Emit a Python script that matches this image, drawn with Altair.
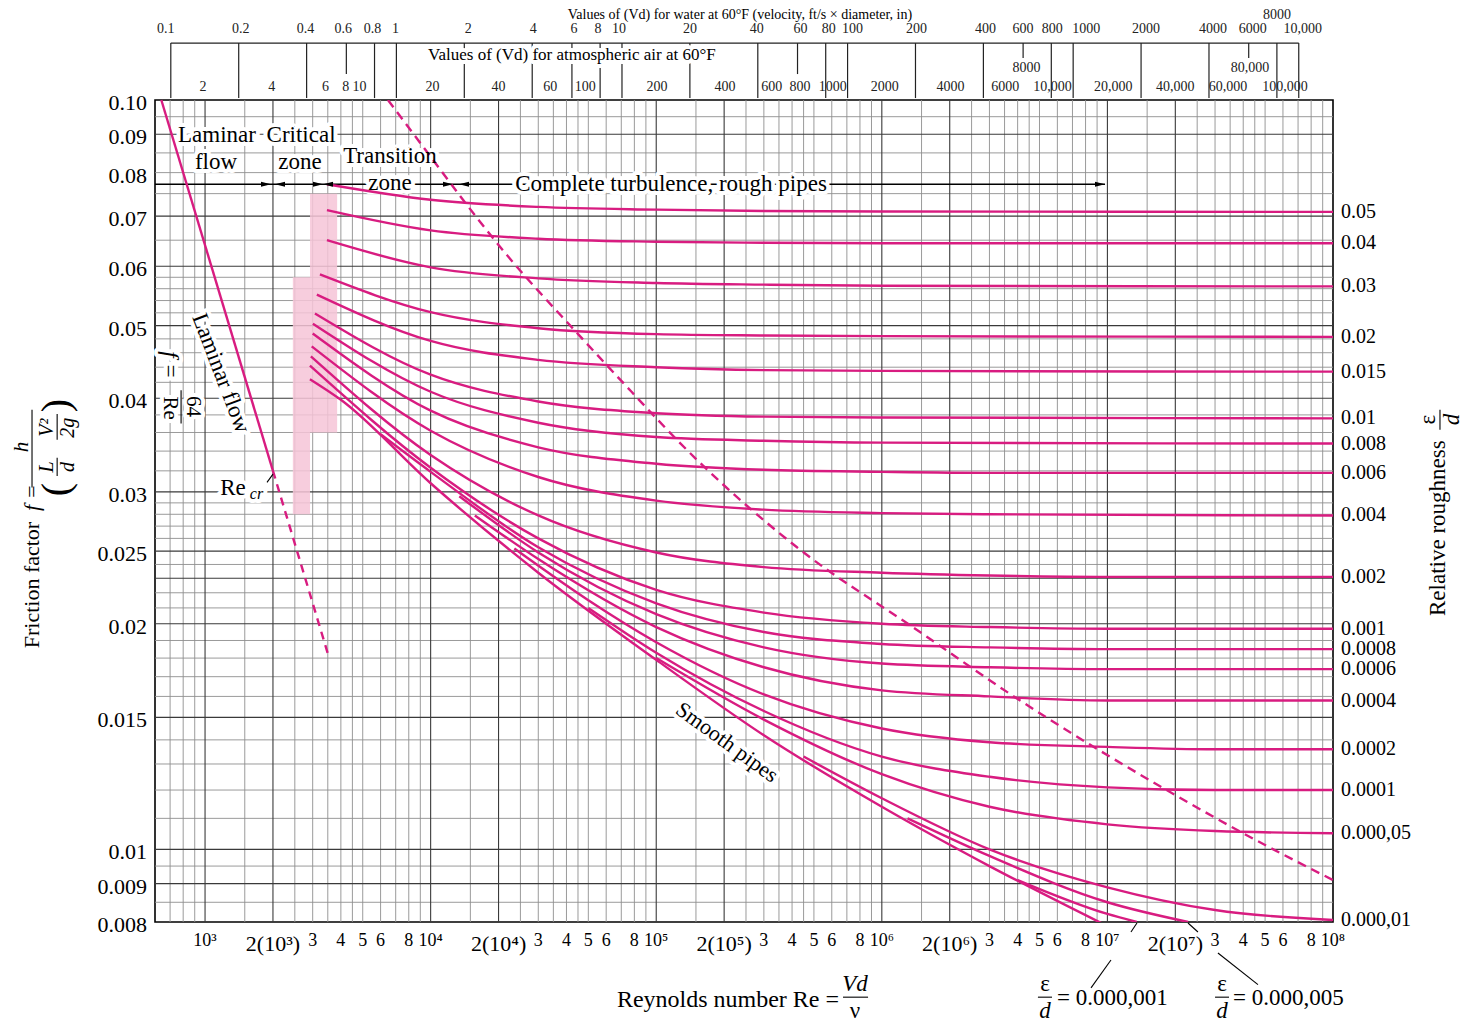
import altair as alt
import pandas as pd

FONT = "Liberation Serif"
MAGENTA = "#d81c80"
PINK = "#f6c4d7"
GRID_MINOR = "#8e8e8e"
GRID_MAJOR = "#3a3a3a"

# ---------------- scales / grid ----------------
X_DOMAIN = [600, 100_000_000]
Y_DOMAIN = [0.008, 0.10]

X_GRID_MULT = [1, 1.5, 2, 2.5, 3, 3.5, 4, 4.5, 5, 6, 7, 8, 9]
X_GRID_DECADES = [100, 1_000, 10_000, 100_000, 1_000_000, 10_000_000]
X_GRID_MAJOR = [1_000, 2_000, 10_000, 20_000, 100_000, 200_000,
                1_000_000, 2_000_000, 10_000_000, 20_000_000]
Y_GRID = [0.0085, 0.009, 0.0095, 0.010, 0.011, 0.012, 0.013, 0.014, 0.015,
          0.016, 0.017, 0.018, 0.019, 0.020, 0.021, 0.022, 0.023, 0.024,
          0.025, 0.026, 0.027, 0.028, 0.029, 0.030, 0.032, 0.034, 0.036,
          0.038, 0.040, 0.042, 0.044, 0.046, 0.048, 0.050, 0.052, 0.054,
          0.056, 0.058, 0.060, 0.065, 0.070, 0.075, 0.080, 0.085, 0.090, 0.095]
Y_GRID_MAJOR = [0.009, 0.010, 0.015, 0.020, 0.023, 0.025, 0.030, 0.040,
                0.050, 0.060, 0.070, 0.090]

X_TICKS = [1_000, 2_000, 3_000, 4_000, 5_000, 6_000, 8_000,
           10_000, 20_000, 30_000, 40_000, 50_000, 60_000, 80_000,
           100_000, 200_000, 300_000, 400_000, 500_000, 600_000, 800_000,
           1_000_000, 2_000_000, 3_000_000, 4_000_000, 5_000_000, 6_000_000, 8_000_000,
           10_000_000, 20_000_000, 30_000_000, 40_000_000, 50_000_000, 60_000_000, 80_000_000,
           100_000_000]
X_TICK_LABELS = ["10³", "2(10³)", "3", "4", "5", "6", "8",
                 "10⁴", "2(10⁴)", "3", "4", "5", "6", "8",
                 "10⁵", "2(10⁵)", "3", "4", "5", "6", "8",
                 "10⁶", "2(10⁶)", "3", "4", "5", "6", "8",
                 "10⁷", "2(10⁷)", "3", "4", "5", "6", "8",
                 "10⁸"]
Y_TICKS = [0.008, 0.009, 0.01, 0.015, 0.02, 0.025, 0.03, 0.04, 0.05,
           0.06, 0.07, 0.08, 0.09, 0.10]
Y_TICK_LABELS = ["0.008", "0.009", "0.01", "0.015", "0.02", "0.025", "0.03",
                 "0.04", "0.05", "0.06", "0.07", "0.08", "0.09", "0.10"]

# ---------------- curves: (Reynolds numbers, friction factors) ----------------
CURVES = {
    "0.05": ([3470, 1e4, 3e4, 1e5, 3e5, 1e6, 1e8],
             [0.0772, 0.0736, 0.0720, 0.0714, 0.0711, 0.0710, 0.0709]),
    "0.04": ([3470, 1e4, 3e4, 1e5, 3e5, 1e6, 1e8],
             [0.0713, 0.0670, 0.0653, 0.0647, 0.0645, 0.0644, 0.0644]),
    "0.03": ([3470, 1e4, 3e4, 1e5, 3e5, 1e6, 1e8],
             [0.0650, 0.0598, 0.0578, 0.0570, 0.0567, 0.0565, 0.0564]),
    "0.02": ([3230, 1e4, 3e4, 1e5, 3e5, 1e6, 1e8],
             [0.0585, 0.0521, 0.0496, 0.0487, 0.0485, 0.0484, 0.0483]),
    "0.015": ([3130, 1e4, 3e4, 1e5, 3e5, 1e6, 1e8],
              [0.0550, 0.0477, 0.0450, 0.0440, 0.0436, 0.0435, 0.0434]),
    "0.01": ([3070, 1e4, 3e4, 1e5, 3e5, 1e6, 1e8],
             [0.0519, 0.0430, 0.0396, 0.0382, 0.0378, 0.0377, 0.0376]),
    "0.008": ([3006, 1e4, 3e4, 1e5, 3e5, 1e6, 1e8],
              [0.0503, 0.0408, 0.0371, 0.0355, 0.0351, 0.0349, 0.0348]),
    "0.006": ([3000, 1e4, 3e4, 1e5, 3e5, 1e6, 3e6, 1e8],
              [0.0488, 0.0385, 0.0344, 0.0327, 0.0321, 0.0319, 0.0318, 0.0318]),
    "0.004": ([2970, 1e4, 3e4, 1e5, 3e5, 1e6, 3e6, 1e8],
              [0.0469, 0.0362, 0.0314, 0.0292, 0.0284, 0.0281, 0.0280, 0.0279]),
    "0.002": ([2945, 1e4, 3e4, 1e5, 3e5, 1e6, 3e6, 1e7, 1e8],
              [0.0455, 0.0336, 0.0279, 0.0249, 0.0238, 0.0234, 0.0232, 0.0231, 0.0231]),
    "0.001": ([2917, 1e4, 3e4, 1e5, 3e5, 1e6, 3e6, 1e7, 1e8],
              [0.0442, 0.0323, 0.0260, 0.0222, 0.0207, 0.0200, 0.0198, 0.0197, 0.0197]),
    "0.0008": ([6000, 1e4, 3e4, 1e5, 3e5, 1e6, 3e6, 1e7, 1e8],
               [0.0358, 0.0319, 0.0253, 0.0213, 0.0195, 0.0188, 0.0186, 0.0185, 0.0185]),
    "0.0006": ([13400, 3e4, 1e5, 3e5, 1e6, 3e6, 1e7, 1e8],
               [0.0296, 0.0249, 0.0206, 0.0186, 0.0177, 0.0175, 0.0174, 0.0174]),
    "0.0004": ([15700, 3e4, 1e5, 3e5, 1e6, 3e6, 1e7, 1e8],
               [0.0279, 0.0244, 0.0198, 0.0175, 0.0163, 0.0160, 0.0158, 0.0158]),
    "0.0002": ([23500, 5e4, 1e5, 3e5, 1e6, 3e6, 1e7, 3e7, 1e8],
               [0.0252, 0.0215, 0.0189, 0.0161, 0.0145, 0.0139, 0.0137, 0.0136, 0.0136]),
    "0.0001": ([5e4, 1e5, 3e5, 1e6, 3e6, 1e7, 3e7, 1e8],
               [0.0210, 0.0183, 0.0153, 0.0133, 0.0125, 0.0121, 0.0120, 0.0120]),
    "0.000,05": ([1e5, 3e5, 1e6, 3e6, 1e7, 3e7, 1e8],
                 [0.0180, 0.0149, 0.0126, 0.0114, 0.0108, 0.01058, 0.01051]),
    "0.000,01": ([4.5e5, 1e6, 3e6, 1e7, 3e7, 1e8],
                 [0.0133, 0.0117, 0.0100, 0.0089, 0.0083, 0.00805]),
    "0.000,005": ([1.3e6, 3e6, 1e7, 2.28e7],
                  [0.0110, 0.0098, 0.0085, 0.0080]),
    "0.000,001": ([4e6, 1e7, 1.35e7],
                  [0.0091, 0.0082, 0.0080]),
    "smooth": ([2917, 4000, 1e4, 3e4, 1e5, 3e5, 1e6, 3e6, 1e7],
               [0.0424, 0.0398, 0.0308, 0.0234, 0.0179, 0.0142, 0.0114, 0.0095, 0.0079]),
}
RIGHT_LABELS = ["0.05", "0.04", "0.03", "0.02", "0.015", "0.01", "0.008", "0.006",
                "0.004", "0.002", "0.001", "0.0008", "0.0006", "0.0004", "0.0002",
                "0.0001", "0.000,05", "0.000,01"]

LAMINAR_RE = [640, 2000]
LAMINAR_F = [0.100, 0.032]
LAMINAR_DASH_RE = [2000, 3550]
LAMINAR_DASH_F = [0.032, 0.018]

BOUNDARY_RE = [6471, 10244, 13910, 20300, 45350, 67000, 156300, 420600,
               1427000, 3970000, 8530000, 18300000, 39000000, 100000000]
BOUNDARY_F = [0.100, 0.0832, 0.0736, 0.0637, 0.0486, 0.0428, 0.0328, 0.0253,
              0.01964, 0.0159, 0.01375, 0.0120, 0.01055, 0.0091]

CRITICAL_BANDS = {"re": [2450, 2920], "re2": [2920, 3850],
                  "f": [0.028, 0.036], "f2": [0.058, 0.075]}

# zone arrow line
ZONE_LINE = {"re": [600], "re2": [9.76e6], "f": [0.0772]}
ARROW_RIGHT_RE = [1863, 3168, 11940, 9.27e6]
ARROW_LEFT_RE = [2149, 3509, 14060]

# top scales: Vd values
WATER_K = 7050
AIR_K = 515
PX_PER_DECADE = 225.6
WATER_VD = [0.1, 0.2, 0.4, 0.6, 0.8, 1, 2, 4, 6, 8, 10, 20, 40, 60, 80, 100,
            200, 400, 600, 800, 1000, 2000, 4000, 6000, 8000, 10000]
WATER_LABELS = ["0.1", "0.2", "0.4", "0.6", "0.8", "1", "2", "4", "6", "8", "10",
                "20", "40", "60", "80", "100", "200", "400", "600", "800", "1000",
                "2000", "4000", "6000", "8000", "10,000"]
WATER_NUDGE_PX = [-5, 2, -1, -3, -2, -1, 4, 1, 2, -2, -3, 0, -1, 3, 3, 5,
                  1, 2, 0, 1, 13, 5, 4, 4, 0, 4]
WATER_SHORT_A = [0.6, 60]
WATER_SHORT_B = [600, 6000]
WATER_RAISED = [8000]
AIR_VD = [2, 4, 6, 8, 10, 20, 40, 60, 100, 200, 400, 600, 800, 1000, 2000, 4000,
          6000, 8000, 10000, 20000, 40000, 60000, 80000, 100000]
AIR_LABELS = ["2", "4", "6", "8", "10", "20", "40", "60", "100", "200", "400",
              "600", "800", "1000", "2000", "4000", "6000", "8000", "10,000",
              "20,000", "40,000", "60,000", "80,000", "100,000"]
AIR_NUDGE_PX = [-5, -4, 10, 2, -6, -1, -3, 9, -6, -2, -2, 5, 5, 16, 0, -2,
                13, 6, 10, 3, -3, 10, 4, 17]
AIR_RAISED = [8000, 80000]
TOP_LINE_F = 0.1191
TICK_END_FULL = 0.1006
TICK_END_A = 0.1083
TICK_END_B = 0.1138
WATER_LABEL_F = 0.1244
WATER_RAISED_F = 0.1298
AIR_LABEL_F = 0.1041
AIR_RAISED_F = 0.1103

# annotations: text, Re, f, size, angle, align, italic
ANNOT_HALO = [
    ("Laminar", 1130, 0.0898, 23, 0, "center", False),
    ("Critical", 2664, 0.0898, 23, 0, "center", False),
    ("flow", 1118, 0.0827, 23, 0, "center", False),
    ("zone", 2637, 0.0827, 23, 0, "center", False),
    ("Transition", 6604, 0.0842, 23, 0, "center", False),
    ("zone", 6604, 0.0775, 23, 0, "center", False),
    ("Complete turbulence, rough pipes", 116300, 0.0772, 23, 0, "center", False),
    ("Laminar flow", 1177, 0.0432, 23, 69, "center", False),
    ("Smooth pipes", 206000, 0.0139, 22, 36, "center", False),
    ("Re", 1330, 0.0304, 23, 0, "center", False),
    ("cr", 1690, 0.0298, 16, 0, "center", True),
    ("f =", 699, 0.0443, 23, 90, "center", True),
    ("64", 884, 0.0390, 21, 90, "center", False),
    ("Re", 699, 0.0388, 21, 90, "center", False),
    ("Values of (Vd) for atmospheric air at 60°F", 42300, 0.1148, 17, 0, "center", False),
]
ANNOT_PLAIN = [
    ("Values of (Vd) for water at 60°F (velocity, ft/s × diameter, in)", 235000, 0.1298, 14, 0, "center", False),
    ("Reynolds number Re =", 208000, 0.00630, 24, 0, "center", False),
    ("Vd", 760000, 0.00661, 23, 0, "center", True),
    ("ν", 760000, 0.00609, 23, 0, "center", False),
    ("ε", 5.29e6, 0.00661, 23, 0, "center", False),
    ("d", 5.29e6, 0.00609, 23, 0, "center", True),
    ("= 0.000,001", 5.98e6, 0.00634, 23, 0, "left", False),
    ("ε", 3.22e7, 0.00661, 23, 0, "center", False),
    ("d", 3.22e7, 0.00609, 23, 0, "center", True),
    ("= 0.000,005", 3.6e7, 0.00634, 23, 0, "left", False),
    ("Friction factor", 171, 0.02253, 22, 270, "center", False),
    ("f =", 171, 0.02946, 22, 270, "center", True),
    ("h", 154, 0.03443, 21, 270, "center", True),
    ("L", 199, 0.03239, 20, 270, "center", True),
    ("d", 247, 0.03239, 20, 270, "center", True),
    ("V²", 199, 0.03654, 20, 270, "center", True),
    ("2g", 247, 0.03654, 20, 270, "center", True),
    ("(", 221, 0.0302, 40, 270, "center", False),
    (")", 221, 0.0391, 40, 270, "center", False),
    ("Relative roughness", 2.92e8, 0.02683, 23, 270, "center", False),
    ("ε", 2.64e8, 0.03746, 23, 270, "center", False),
    ("d", 3.37e8, 0.03746, 23, 270, "center", True),
]
# thin annotation strokes: Re1, f1, Re2, f2
ANNOT_LINES = [
    (783, 0.0410, 783, 0.0370),          # 64/Re bar
    (1882, 0.03088, 2001, 0.03168),      # Re_cr leader
    (6.73e5, 0.00635, 8.69e5, 0.00635),  # Vd/nu bar
    (4.92e6, 0.00635, 5.68e6, 0.00635),
    (3.0e7, 0.00635, 3.46e7, 0.00635),
    (8.46e6, 0.006533, 1.037e7, 0.007118),
    (1.272e7, 0.007758, 1.352e7, 0.007975),
    (3.09e7, 0.007273, 4.65e7, 0.006600),
    (2.276e7, 0.007975, 2.52e7, 0.007758),
    (171, 0.0386, 171, 0.0304),          # main fraction bar of y title
    (221, 0.0333, 221, 0.0315),
    (221, 0.0381, 221, 0.0352),
    (2.98e8, 0.0386, 2.98e8, 0.0363),    # eps/d bar (right)
]

# ---------------- build chart ----------------
XS = alt.Scale(type="log", domain=X_DOMAIN, nice=False)
YS = alt.Scale(type="log", domain=Y_DOMAIN, nice=False)


def ex(field="re"):
    return alt.X(f"{field}:Q", scale=XS, axis=None)


def ey(field="f"):
    return alt.Y(f"{field}:Q", scale=YS, axis=None)


xgrid = [m * d for d in X_GRID_DECADES for m in X_GRID_MULT
         if X_DOMAIN[0] < m * d < X_DOMAIN[1]]
xg = pd.DataFrame({"re": xgrid})
xg["major"] = xg["re"].isin(X_GRID_MAJOR)
yg = pd.DataFrame({"f": Y_GRID})
yg["major"] = yg["f"].isin(Y_GRID_MAJOR)

layers = []
layers.append(alt.Chart(xg[~xg.major]).mark_rule(color=GRID_MINOR, strokeWidth=0.9)
              .encode(x=ex()))
layers.append(alt.Chart(yg[~yg.major]).mark_rule(color=GRID_MINOR, strokeWidth=0.9)
              .encode(y=ey()))
layers.append(alt.Chart(xg[xg.major]).mark_rule(color=GRID_MAJOR, strokeWidth=1.1)
              .encode(x=ex()))
layers.append(alt.Chart(yg[yg.major]).mark_rule(color=GRID_MAJOR, strokeWidth=1.1)
              .encode(y=ey()))

# axis tick labels drawn as text through the scales
big = [not s.isdigit() for s in X_TICK_LABELS]
xl = pd.DataFrame({"re": X_TICKS, "label": X_TICK_LABELS, "big": big})
xl["f"] = Y_DOMAIN[0]
layers.append(alt.Chart(xl[xl.big]).mark_text(font=FONT, fontSize=22, color="black",
                                              baseline="middle", dy=22)
              .encode(x=ex(), y=ey(), text="label:N"))
layers.append(alt.Chart(xl[~xl.big]).mark_text(font=FONT, fontSize=18, color="black",
                                               baseline="middle", dy=19)
              .encode(x=ex(), y=ey(), text="label:N"))
yl = pd.DataFrame({"f": Y_TICKS, "label": Y_TICK_LABELS})
yl["re"] = X_DOMAIN[0]
layers.append(alt.Chart(yl).mark_text(font=FONT, fontSize=22, color="black", align="right",
                                      baseline="middle", dx=-8, dy=3)
              .encode(x=ex(), y=ey(), text="label:N"))

# critical zone bands
layers.append(alt.Chart(pd.DataFrame(CRITICAL_BANDS)).mark_rect(color=PINK, opacity=0.85)
              .encode(x=ex(), x2="re2:Q", y=ey(), y2="f2:Q"))

# zone arrow line
layers.append(alt.Chart(pd.DataFrame(ZONE_LINE)).mark_rule(color="black", strokeWidth=1.6)
              .encode(x=ex(), x2="re2:Q", y=ey()))

# top scales
water = pd.DataFrame({"vd": WATER_VD, "label": WATER_LABELS, "nudge": WATER_NUDGE_PX})
water["re"] = water["vd"] * WATER_K
water["re_lab"] = water["re"] * 10 ** (water["nudge"] / PX_PER_DECADE)
water["f_top"] = TOP_LINE_F
water["f_bot"] = [TICK_END_B if v in WATER_SHORT_B else TICK_END_A if v in WATER_SHORT_A
                  else TICK_END_FULL for v in WATER_VD]
water["f_lab"] = [WATER_RAISED_F if v in WATER_RAISED else WATER_LABEL_F for v in WATER_VD]
air = pd.DataFrame({"vd": AIR_VD, "label": AIR_LABELS, "nudge": AIR_NUDGE_PX})
air["re"] = air["vd"] * AIR_K * 10 ** (air["nudge"] / PX_PER_DECADE)
air["f_lab"] = [AIR_RAISED_F if v in AIR_RAISED else AIR_LABEL_F for v in AIR_VD]
topline = pd.DataFrame({"re": [WATER_VD[0] * WATER_K], "re2": [WATER_VD[-1] * WATER_K],
                        "f": [TOP_LINE_F]})
layers.append(alt.Chart(topline).mark_rule(color="#222", strokeWidth=1.3)
              .encode(x=ex(), x2="re2:Q", y=ey()))
layers.append(alt.Chart(water).mark_rule(color="#222", strokeWidth=1.2)
              .encode(x=ex(), y=ey("f_top"), y2="f_bot:Q"))
layers.append(alt.Chart(water).mark_text(font=FONT, fontSize=14, color="#222", baseline="middle")
              .encode(x=ex("re_lab"), y=ey("f_lab"), text="label:N"))
layers.append(alt.Chart(air).mark_text(font=FONT, fontSize=14, color="#222", baseline="middle")
              .encode(x=ex(), y=ey("f_lab"), text="label:N"))


def text_layers(rows, halo=0):
    df = pd.DataFrame(rows, columns=["text", "re", "f", "size", "angle", "align", "italic"])
    out = []
    for (align, italic), g in df.groupby(["align", "italic"]):
        enc = dict(x=ex(), y=ey(), text="text:N",
                   size=alt.Size("size:Q", scale=None, legend=None),
                   angle=alt.Angle("angle:Q", scale=None, legend=None))
        props = dict(font=FONT, align=align, baseline="middle",
                     fontStyle="italic" if italic else "normal")
        if halo:
            out.append(alt.Chart(g).mark_text(color="white", stroke="white", strokeWidth=halo,
                                              strokeJoin="round", **props).encode(**enc))
        else:
            out.append(alt.Chart(g).mark_text(color="black", **props).encode(**enc))
    return out


layers += text_layers(ANNOT_HALO, halo=8)

# curves
rows = []
for name, (res, fs) in CURVES.items():
    for r, f in zip(res, fs):
        rows.append({"curve": name, "re": r, "f": f})
curves_df = pd.DataFrame(rows)
layers.append(alt.Chart(curves_df).mark_line(color=MAGENTA, strokeWidth=2.4,
                                             interpolate="monotone", clip=True)
              .encode(x=ex(), y=ey(), detail="curve:N"))

layers.append(alt.Chart(pd.DataFrame({"re": LAMINAR_RE, "f": LAMINAR_F}))
              .mark_line(color=MAGENTA, strokeWidth=2.4).encode(x=ex(), y=ey()))
layers.append(alt.Chart(pd.DataFrame({"re": LAMINAR_DASH_RE, "f": LAMINAR_DASH_F}))
              .mark_line(color=MAGENTA, strokeWidth=2.4, strokeDash=[8, 6]).encode(x=ex(), y=ey()))
layers.append(alt.Chart(pd.DataFrame({"re": BOUNDARY_RE, "f": BOUNDARY_F}))
              .mark_line(color=MAGENTA, strokeWidth=2.4, strokeDash=[9, 6],
                         interpolate="monotone", clip=True).encode(x=ex(), y=ey()))

# arrowheads
arr_r = pd.DataFrame({"re": ARROW_RIGHT_RE, "f": ZONE_LINE["f"] * len(ARROW_RIGHT_RE)})
arr_l = pd.DataFrame({"re": ARROW_LEFT_RE, "f": ZONE_LINE["f"] * len(ARROW_LEFT_RE)})
layers.append(alt.Chart(arr_r).mark_point(shape="M-1,-0.5L1,0L-1,0.5Z", filled=True,
                                          color="black", size=100, opacity=1)
              .encode(x=ex(), y=ey()))
layers.append(alt.Chart(arr_l).mark_point(shape="M1,-0.5L-1,0L1,0.5Z", filled=True,
                                          color="black", size=100, opacity=1)
              .encode(x=ex(), y=ey()))

# texts
layers += text_layers(ANNOT_HALO)
layers += text_layers(ANNOT_PLAIN)

lines_df = pd.DataFrame(ANNOT_LINES, columns=["re", "f", "re2", "f2"])
layers.append(alt.Chart(lines_df).mark_rule(color="black", strokeWidth=1.1)
              .encode(x=ex(), y=ey(), x2="re2:Q", y2="f2:Q"))

# right-hand roughness labels
right = pd.DataFrame({"label": RIGHT_LABELS,
                      "re": [X_DOMAIN[1]] * len(RIGHT_LABELS),
                      "f": [CURVES[k][1][-1] for k in RIGHT_LABELS]})
layers.append(alt.Chart(right).mark_text(font=FONT, fontSize=20, color="black",
                                         align="left", baseline="middle", dx=8)
              .encode(x=ex(), y=ey(), text="label:N"))

chart = (alt.layer(*layers)
         .properties(width=1178, height=822,
                     autosize=alt.AutoSizeParams(type="none"),
                     padding={"left": 147, "top": 92, "right": 130, "bottom": 100})
         .configure(background="white")
         .configure_view(stroke="black", strokeWidth=1.6))

chart.save("out.html", embed_options={"renderer": "svg", "actions": False})
